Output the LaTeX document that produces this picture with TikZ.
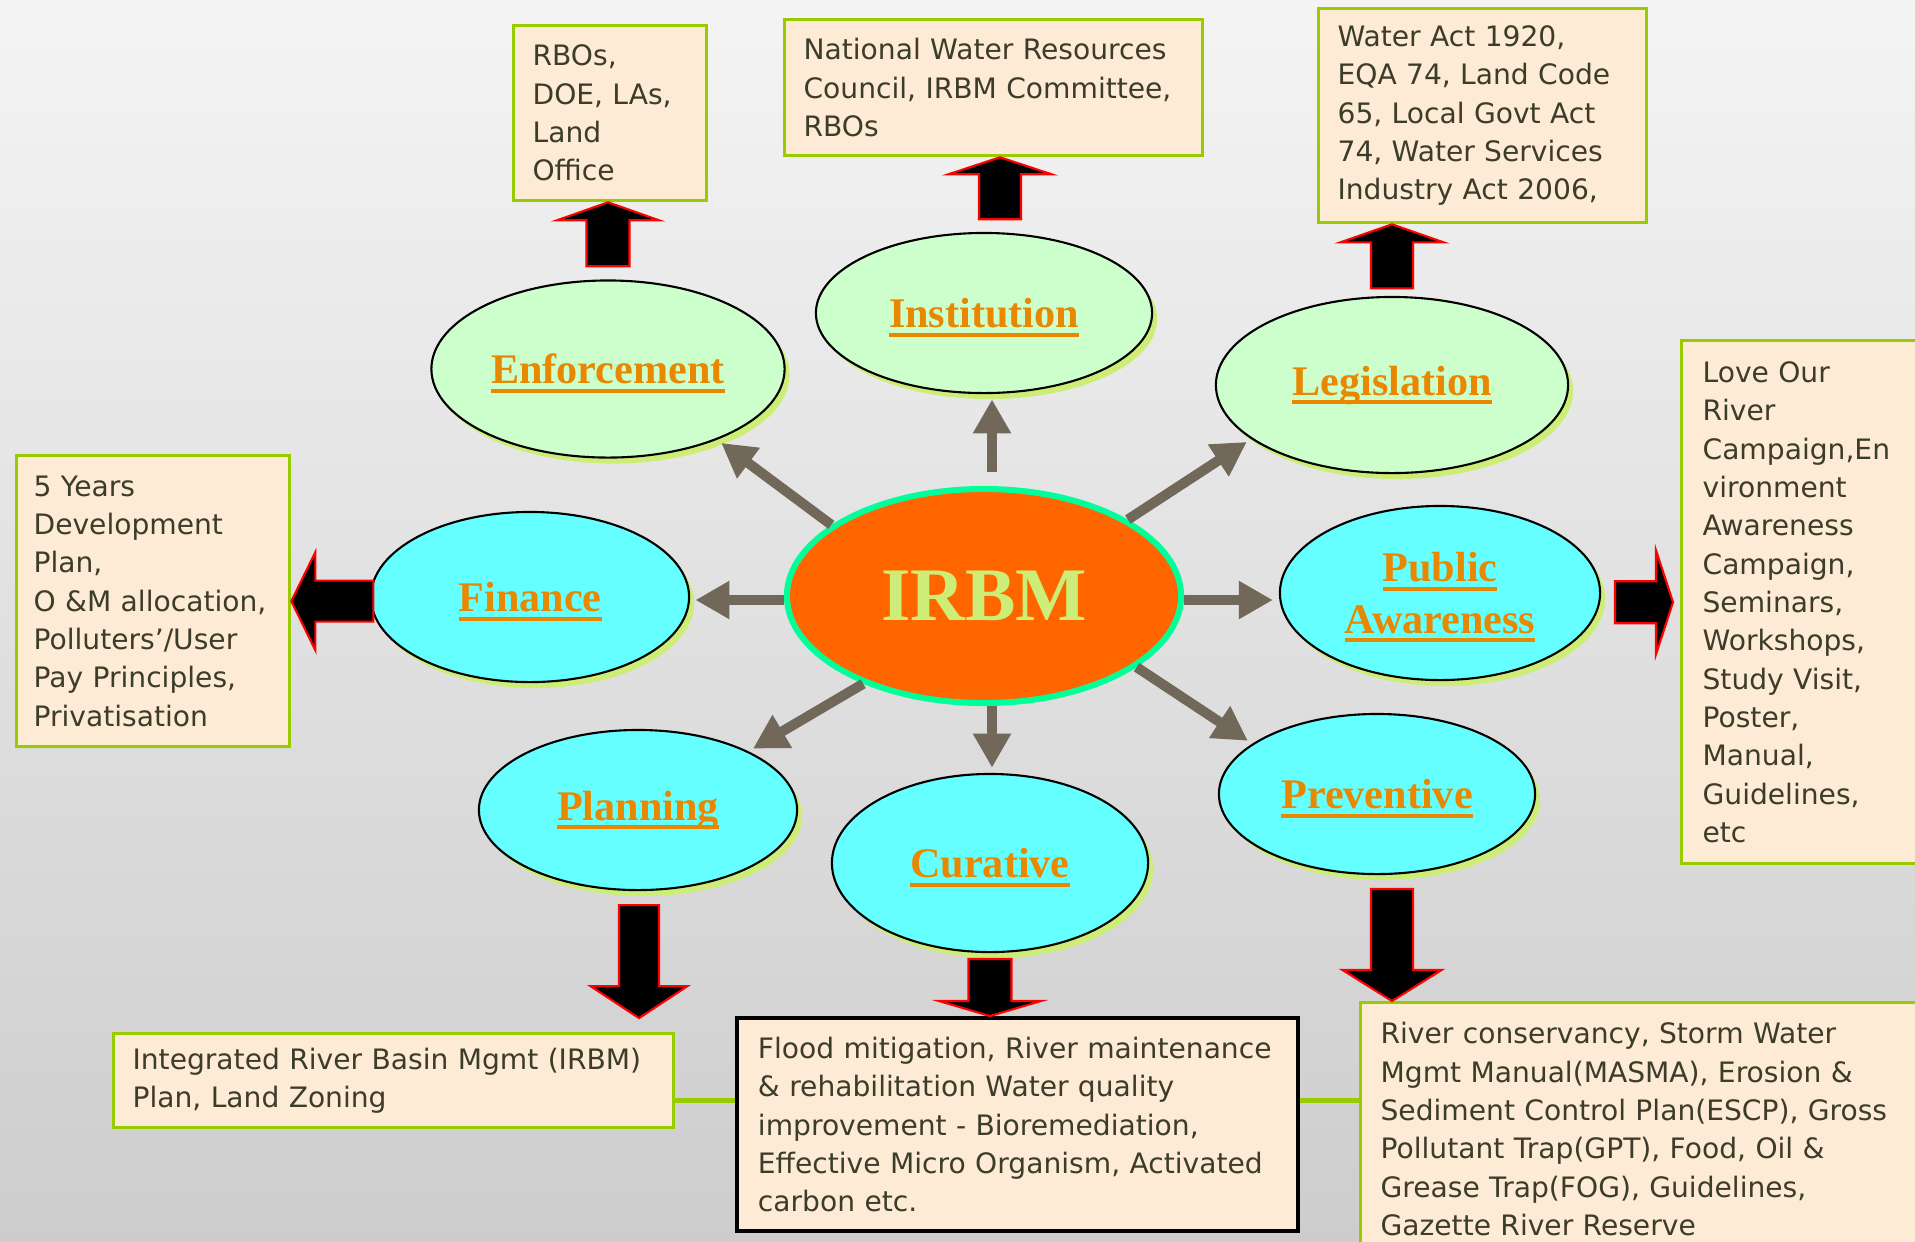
\documentclass[tikz,border=0pt]{standalone}
\usepackage{fontspec}
\setmainfont{DejaVu Sans}
\newfontfamily\labelserif{Liberation Serif}
\usetikzlibrary{shapes.geometric,arrows.meta,shadows,calc}
\definecolor{bgtop}{HTML}{F4F4F4}
\definecolor{bgbot}{HTML}{CDCDCD}
\definecolor{boxfill}{HTML}{FEEBD5}
\definecolor{boxgreen}{HTML}{99CC00}
\definecolor{txt}{HTML}{3C3C2A}
\definecolor{lgreen}{HTML}{CCFFCC}
\definecolor{lcyan}{HTML}{66FFFF}
\definecolor{shadowgreen}{HTML}{CCEE77}
\definecolor{lorange}{HTML}{E88800}
\definecolor{irbmfill}{HTML}{FF6600}
\definecolor{irbmborder}{HTML}{00FF99}
\definecolor{irbmtext}{HTML}{CCEE77}
\definecolor{gconn}{HTML}{72685A}
\newcommand\myul[1]{\setbox0=\hbox{#1}\rlap{\smash{\rule[-0.22em]{\wd0}{0.095em}}}\box0}
\begin{document}
\begin{tikzpicture}[x=0.01cm,y=-0.01cm,
 infobox/.style={draw=boxgreen, line width=0.9pt, fill=boxfill, text=txt, anchor=north west, align=left, inner xsep=0.19cm, font=\fontsize{8pt}{10.9pt}\selectfont},
 oval/.style={ellipse, draw=black, line width=0.6pt, inner sep=0pt, text=lorange, align=center, font=\labelserif\bfseries\fontsize{12pt}{14.6pt}\selectfont, drop shadow={shadow xshift=0.05cm, shadow yshift=-0.06cm, fill=shadowgreen, opacity=1}},
 greenoval/.style={oval, fill=lgreen},
 cyanoval/.style={oval, fill=lcyan},
 spoke/.style={draw=gconn, line width=2.85pt, -{Triangle[length=0.34cm,width=0.36cm]}, shorten >=1.5pt},
 blockarrow/.style={fill=black, draw=red, line width=0.6pt, line join=miter},
 gline/.style={draw=boxgreen, line width=1.4pt},
 pics/barrow/.style n args={4}{code={\path[blockarrow] (0,0) -- (-#2,#4/2) -- (-#2,#3/2) -- (-#1,#3/2) -- (-#1,-#3/2) -- (-#2,-#3/2) -- (-#2,-#4/2) -- cycle;}}
]
\useasboundingbox (0,0) rectangle (1915,1241);
\clip (0,0) rectangle (1915,1241);
\shade[top color=bgtop, bottom color=bgbot] (0,0) rectangle (1915,1241);

% info boxes
\node[infobox, minimum height=1.75cm, text width=1.55cm] (enfbox) at (512,24) {RBOs,\\DOE, LAs,\\Land\\Office};
\node[infobox, minimum height=1.36cm, text width=3.80cm] (instbox) at (783,18) {National Water Resources\\Council, IRBM Committee,\\RBOs};
\node[infobox, minimum height=2.14cm, text width=2.90cm] (legbox) at (1317,7) {Water Act 1920,\\EQA 74, Land Code\\65, Local Govt Act\\74, Water Services\\Industry Act 2006,};
\node[infobox, minimum height=5.23cm, text width=2.60cm, inner xsep=0.21cm] (pabox) at (1680,339) {Love Our\\River\\Campaign,En\\vironment\\Awareness\\Campaign,\\Seminars,\\Workshops,\\Study Visit,\\Poster,\\Manual,\\Guidelines,\\etc};
\node[infobox, minimum height=2.91cm, text width=2.39cm, inner xsep=0.17cm] (finbox) at (15,454) {5 Years\\Development\\Plan,\\O \&M allocation,\\Polluters’/User\\Pay Principles,\\Privatisation};
\node[infobox, minimum height=0.94cm, text width=5.22cm] (planbox) at (112,1032) {Integrated River Basin Mgmt (IRBM)\\Plan, Land Zoning};
\node[infobox, draw=black, line width=1.1pt, minimum height=2.13cm, text width=5.19cm, inner xsep=0.21cm] (curbox) at (735,1016) {Flood mitigation, River maintenance\\\& rehabilitation Water quality\\improvement - Bioremediation,\\Effective Micro Organism, Activated\\carbon etc.};
\node[infobox, inner ysep=0.2cm, text width=5.60cm, inner xsep=0.20cm] (prevbox) at (1359,1001) {River conservancy, Storm Water\\Mgmt Manual(MASMA), Erosion \&\\Sediment Control Plan(ESCP), Gross\\Pollutant Trap(GPT), Food, Oil \&\\Grease Trap(FOG), Guidelines,\\Gazette River Reserve};

% green links between bottom boxes
\coordinate (gl) at ($(planbox.east)+(0,20)$);
\draw[gline] (gl) -- (gl -| curbox.west);
\draw[gline] (gl -| curbox.east) -- (gl -| prevbox.west);

% ellipses
\node[greenoval, minimum width=3.53cm, minimum height=1.77cm] (enf) at (608,369) {\myul{Enforcement}};
\node[greenoval, minimum width=3.36cm, minimum height=1.60cm] (inst) at (984,313) {\myul{Institution}};
\node[greenoval, minimum width=3.52cm, minimum height=1.76cm] (leg) at (1392,385) {\myul{Legislation}};
\node[cyanoval, minimum width=3.18cm, minimum height=1.70cm] (fin) at (530,597) {\myul{Finance}};
\node[cyanoval, minimum width=3.20cm, minimum height=1.74cm] (pa) at (1440,593) {\myul{Public}\\\myul{Awareness}};
\node[cyanoval, minimum width=3.18cm, minimum height=1.60cm] (plan) at (638,810) {\myul{Planning}};
\node[cyanoval, minimum width=3.16cm, minimum height=1.78cm] (cur) at (990,863) {\myul{Curative}};
\node[cyanoval, minimum width=3.16cm, minimum height=1.60cm] (prev) at (1377,794) {\myul{Preventive}};

\node[ellipse, fill=irbmfill, draw=irbmborder, line width=1.7pt, minimum width=3.94cm, minimum height=2.14cm, inner sep=0pt, text=irbmtext, font=\labelserif\bfseries\fontsize{21.5pt}{24pt}\selectfont] (irbm) at (984,596) {IRBM};

% spokes
\coordinate (ns) at ($(irbm.north)+(8,0)$);
\coordinate (ss) at ($(irbm.south)+(8,0)$);
\coordinate (ws) at ($(irbm.west)+(0,4)$);
\coordinate (es) at ($(irbm.east)+(0,4)$);
\draw[spoke] (irbm.155) -- (enf.327);
\draw[spoke, shorten <=0.14cm] (ns) -- (ns |- inst.south);
\draw[spoke] (irbm.28) -- (leg.201);
\draw[spoke] (ws) -- (ws -| fin.east);
\draw[spoke, shorten >=0.06cm] (es) -- (es -| pa.west);
\draw[spoke] (irbm.216) -- (plan.28);
\draw[spoke] (ss) -- (ss |- cur.north);
\draw[spoke] (irbm.335) -- (prev.158);

% block arrows
\pic[rotate=90] at (enf.north |- enfbox.south) {barrow={64}{18}{43}{102}};
\pic[rotate=90] at ($(inst.north |- instbox.south)+(16,0)$) {barrow={62}{17}{42}{103}};
\pic[rotate=90] at (leg.north |- legbox.south) {barrow={64}{18}{42}{103}};
\pic[rotate=180] at (finbox.east) {barrow={82}{24}{41}{98}};
\pic at ($(pabox.west)+(-7,0)$) {barrow={58}{17}{42}{104}};
\pic[rotate=-90] at ($(plan.south)+(1,127)$) {barrow={113}{32}{40}{97}};
\pic[rotate=-90] at (cur.south |- curbox.north) {barrow={57}{15}{43}{102}};
\pic[rotate=-90] at ($(prev.south |- prevbox.north)+(15,0)$) {barrow={112}{31}{42}{99}};
\end{tikzpicture}
\end{document}
